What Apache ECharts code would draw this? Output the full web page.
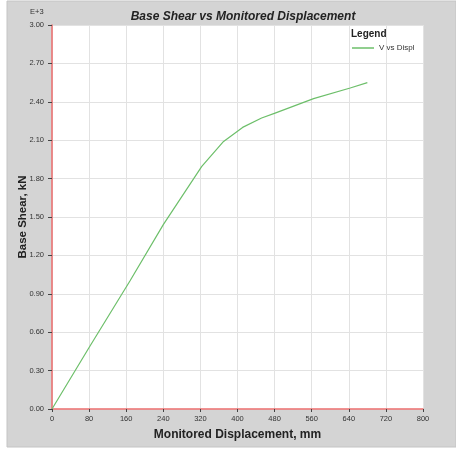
<!DOCTYPE html>
<html>
<head>
<meta charset="utf-8">
<style>
  html, body { margin: 0; padding: 0; background: #ffffff; }
  #chart { width: 456px; height: 451px; }
</style>
<script src="https://cdn.jsdelivr.net/npm/echarts@6/dist/echarts.min.js"></script>
</head>
<body>
<div id="chart"></div>
<script>
// Monitored displacement (mm)
const displacement = [0, 80, 168, 240, 323, 370, 411, 452, 481, 564, 643, 680];
// Base shear (kN)
const baseShear = [0, 480, 1000, 1440, 1895, 2090, 2200, 2273, 2312, 2425, 2508, 2550];
const seriesName = 'V vs Displ';
const xTicks = [0, 80, 160, 240, 320, 400, 480, 560, 640, 720, 800];
const yTicks = ['0.00', '0.30', '0.60', '0.90', '1.20', '1.50', '1.80', '2.10', '2.40', '2.70', '3.00'];

const points = displacement.map((d, i) => [d, baseShear[i]]);

const chart = echarts.init(document.getElementById('chart'), null, { renderer: 'canvas' });
const font = 'Liberation Sans, Arial, sans-serif';
const axisRed = '#ec6e6e';

chart.setOption({
  backgroundColor: '#ffffff',
  animation: false,
  graphic: [
    { type: 'rect', z: -10, shape: { x: 7, y: 1, width: 449, height: 446 },
      style: { fill: '#d4d4d4', stroke: '#c4c4c4', lineWidth: 1 } },
    { type: 'text', left: 30, top: 8,
      style: { text: 'E+3', font: '7.5px ' + font, fill: '#333' } },
    { type: 'text', left: 351, top: 29,
      style: { text: 'Legend', font: 'bold 10px ' + font, fill: '#222' } }
  ],
  title: {
    text: 'Base Shear vs Monitored Displacement',
    left: 238, top: 6, textAlign: 'center',
    textStyle: { fontFamily: font, fontSize: 12, fontWeight: 'bold', fontStyle: 'italic', color: '#222' }
  },
  legend: {
    data: [seriesName],
    left: 352, top: 44,
    padding: 0,
    icon: 'rect',
    itemWidth: 22, itemHeight: 1.5,
    textStyle: { fontFamily: font, fontSize: 8, color: '#333', padding: [0, 0, 0, 0] }
  },
  grid: {
    left: 52, right: 33, top: 25, bottom: 42,
    show: true, backgroundColor: '#ffffff', borderWidth: 0,
    containLabel: false
  },
  xAxis: {
    type: 'value',
    min: xTicks[0], max: xTicks[xTicks.length - 1], interval: 80,
    name: 'Monitored Displacement, mm',
    nameLocation: 'middle', nameGap: 20, nameMoveOverlap: false,
    nameTextStyle: { fontFamily: font, fontSize: 12, fontWeight: 'bold', color: '#222' },
    axisLine: { show: true, onZero: false, lineStyle: { color: axisRed, width: 1.5 } },
    axisTick: { show: true, length: 3, lineStyle: { color: '#444' } },
    axisLabel: { fontFamily: font, fontSize: 7.5, color: '#333', margin: 6,
      formatter: v => String(v) },
    splitLine: { show: true, lineStyle: { color: '#e2e2e2', width: 1 } }
  },
  yAxis: {
    type: 'value',
    min: 0, max: 3000, interval: 300,
    name: 'Base Shear, kN',
    nameLocation: 'middle', nameGap: 23, nameRotate: 90, nameMoveOverlap: false,
    nameTextStyle: { fontFamily: font, fontSize: 11.5, fontWeight: 'bold', color: '#222' },
    axisLine: { show: true, onZero: false, lineStyle: { color: axisRed, width: 1.5 } },
    axisTick: { show: true, length: 4, lineStyle: { color: '#444' } },
    axisLabel: { fontFamily: font, fontSize: 7.5, color: '#333', margin: 8,
      formatter: v => yTicks[Math.round(v / 300)] },
    splitLine: { show: true, lineStyle: { color: '#e2e2e2', width: 1 } }
  },
  series: [{
    name: seriesName,
    type: 'line',
    data: points,
    showSymbol: false,
    symbol: 'none',
    lineStyle: { color: '#6dbf6a', width: 1.2 },
    itemStyle: { color: '#6dbf6a' }
  }]
});
</script>
</body>
</html>
